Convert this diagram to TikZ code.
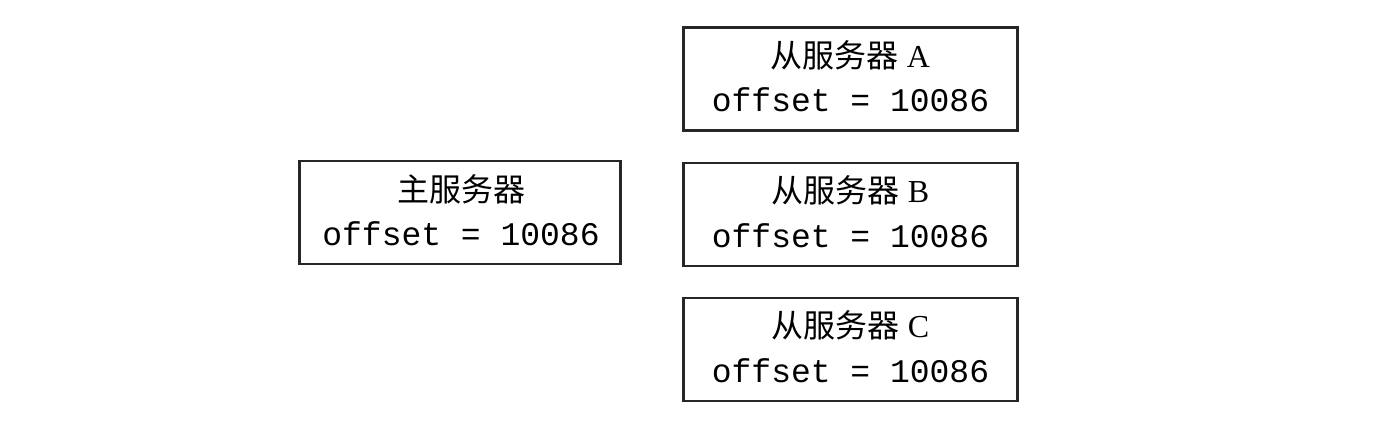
\documentclass[tikz,border=0pt]{standalone}
\usepackage{fontspec}
\setmainfont{Liberation Serif}
\setmonofont{Liberation Mono}
\newfontfamily\cjk{Noto Sans CJK SC}
\begin{document}
\begin{tikzpicture}[x=1pt,y=-1pt,
  srvbox/.style={draw=black!85, line width=2.4pt, minimum width=#1, minimum height=103pt, inner sep=0pt},
  srvbox/.default=334pt,
  ltitle/.style={font=\fontsize{32}{36}\selectfont, anchor=center},
  lmono/.style={font=\fontsize{33}{36}\ttfamily, anchor=center}]
\useasboundingbox (0,0) rectangle (1396,425);
% master
\node[srvbox=321pt] (m) at (460,212.5) {};
\node[ltitle] (mt) at (461,189) {{\cjk 主服务器}};
\node[lmono] (mo) at (461,234) {offset = 10086};
% slaves
\node[srvbox] (a) at (850.5,79) {};
\node[ltitle] (at) at (850.5,55) {{\cjk 从服务器} A};
\node[lmono] (ao) at (850.5,100) {offset = 10086};
\node[srvbox] (b) at (850.5,214.5) {};
\node[ltitle] (bt) at (850.5,190.5) {{\cjk 从服务器} B};
\node[lmono] (bo) at (850.5,235.5) {offset = 10086};
\node[srvbox] (c) at (850.5,349.5) {};
\node[ltitle] (ct) at (850.5,325.5) {{\cjk 从服务器} C};
\node[lmono] (co) at (850.5,370.5) {offset = 10086};
\end{tikzpicture}
\end{document}
